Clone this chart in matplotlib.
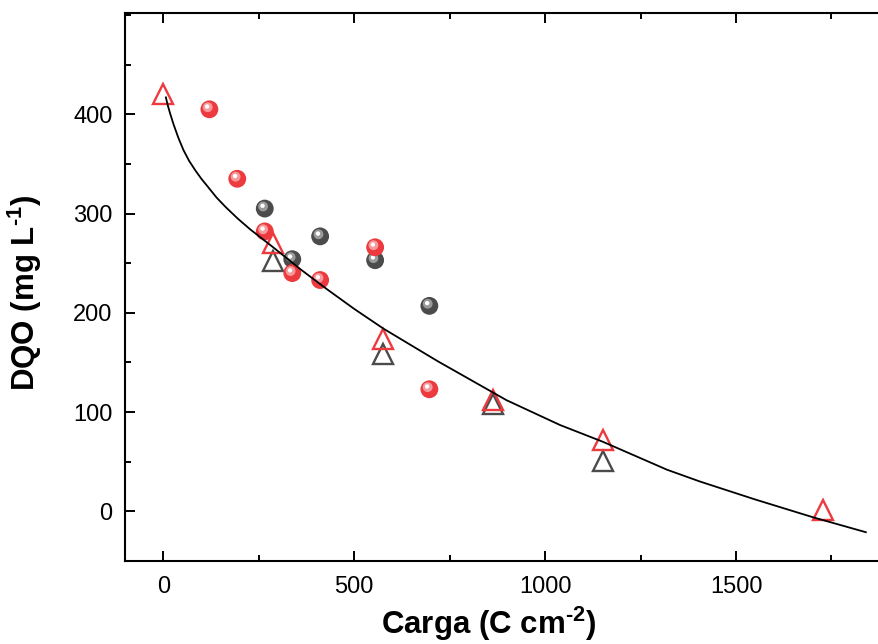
import matplotlib
matplotlib.use("Agg")
import matplotlib.pyplot as plt
import matplotlib.transforms as mtransforms
from matplotlib.ticker import MultipleLocator

plt.rcParams['font.family'] = ['Liberation Sans', 'DejaVu Sans']
plt.rcParams['mathtext.fontset'] = 'custom'
plt.rcParams['mathtext.rm'] = 'Liberation Sans:bold'
plt.rcParams['mathtext.bf'] = 'Liberation Sans:bold'

# triangles (open markers)
tri_red_x = [0, 288, 576, 864, 1152, 1728]
tri_red_y = [420, 270, 174, 112, 72, 1]
tri_gray_x = [288, 576, 864, 1152]
tri_gray_y = [252, 159, 108, 51]

# spheres
sph_red_x = [121, 194, 266, 338, 411, 555, 697]
sph_red_y = [405, 335, 282, 240, 233, 266, 123]
sph_gray_x = [266, 338, 411, 555, 697]
sph_gray_y = [305, 254, 277, 253, 207]

# fitted curve
fit_x = [7, 12, 18, 27, 40, 53, 68, 85, 100, 119, 140, 165, 195, 228, 288, 359, 428,
         500, 577, 720, 899, 1039, 1152, 1319, 1406, 1550, 1702, 1840]
fit_y = [417, 409, 401, 390, 376, 364, 353, 343, 335, 326, 316, 306, 295, 284, 266,
         244, 224, 204, 184, 151, 112, 87, 70, 42, 30, 12, -6, -21]

red = '#ec3a3e'
red_hi = '#f59a9c'
gray = '#4b4b4b'
gray_hi = '#9a9a9a'

fig = plt.figure(figsize=(8.79, 6.44), dpi=100)
ax = fig.add_axes([125 / 879, 83 / 644, 763 / 879, 548 / 644])


def sphere(x, y, base, hi):
    ax.scatter(x, y, s=165, color=base, edgecolors='none', zorder=3)
    off1 = mtransforms.offset_copy(ax.transData, fig=fig, x=-1.2, y=1.5, units='points')
    ax.scatter(x, y, s=50, color=hi, edgecolors='none', zorder=3, transform=off1)
    off2 = mtransforms.offset_copy(ax.transData, fig=fig, x=-1.6, y=2.0, units='points')
    ax.scatter(x, y, s=10, color='white', edgecolors='none', zorder=3, transform=off2)


sphere(sph_gray_x, sph_gray_y, gray, gray_hi)
sphere(sph_red_x, sph_red_y, red, red_hi)

ax.plot(tri_gray_x, tri_gray_y, linestyle='none', marker='^', markersize=14,
        markerfacecolor='none', markeredgecolor=gray, markeredgewidth=1.7, zorder=2)
ax.plot(tri_red_x, tri_red_y, linestyle='none', marker='^', markersize=14,
        markerfacecolor='none', markeredgecolor=red, markeredgewidth=1.7, zorder=2)

ax.plot(fit_x, fit_y, color='black', linewidth=1.3, zorder=4)

ax.set_xlim(-100, 1898)
ax.set_ylim(-50, 502)
ax.set_xticks([0, 500, 1000, 1500])
ax.set_yticks([0, 100, 200, 300, 400])
ax.xaxis.set_minor_locator(MultipleLocator(250))
ax.yaxis.set_minor_locator(MultipleLocator(50))
ax.tick_params(which='both', direction='in', top=True, right=True, width=1.4)
ax.tick_params(which='major', length=7.5, labelsize=17)
ax.tick_params(which='minor', length=4)
ax.tick_params(axis='x', pad=11)
ax.tick_params(axis='y', pad=9)
for sp in ax.spines.values():
    sp.set_linewidth(1.5)

ax.set_xlabel('Carga (C cm$^{\\text{-}2}$)', fontsize=22.5, fontweight='bold')
ax.set_ylabel('DQO (mg L$^{\\text{-}1}$)', fontsize=22.5, fontweight='bold')
ax.xaxis.set_label_coords(0.477, -0.08)
ax.yaxis.set_label_coords(-0.106, 0.49)

fig.savefig('out.png', dpi=100)
